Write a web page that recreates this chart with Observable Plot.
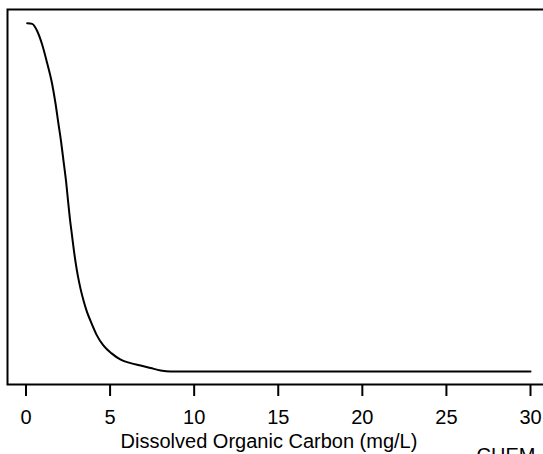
<!DOCTYPE html>
<html><head><meta charset="utf-8">
<script src="https://cdn.jsdelivr.net/npm/d3@7"></script>
<script src="https://cdn.jsdelivr.net/npm/@observablehq/plot@0.6"></script>
<style>html,body{margin:0;padding:0;overflow:hidden;background:#fff;}</style>
</head><body><div id="chart"></div>
<script>
const docValues = [0.07, 0.37, 0.67, 0.96, 1.26, 1.56, 1.76, 1.93, 2.08, 2.23, 2.38, 2.50, 2.61, 2.73, 2.85, 2.97, 3.09, 3.24, 3.42, 3.62, 3.83, 4.19, 4.60, 5.09, 5.63, 6.22, 6.82, 7.41, 8.0, 8.6, 30];
const exceedance = [1.0, 0.998, 0.977, 0.939, 0.885, 0.824, 0.768, 0.711, 0.662, 0.605, 0.547, 0.490, 0.439, 0.393, 0.347, 0.307, 0.273, 0.238, 0.204, 0.172, 0.146, 0.106, 0.075, 0.052, 0.034, 0.024, 0.017, 0.010, 0.003, 0.0, 0.0];
const xTicks = [0, 5, 10, 15, 20, 25, 30];
const xLabel = "Dissolved Organic Carbon (mg/L)";
const sourceNote = "CHEM";

const data = docValues.map((x, i) => ({x, y: exceedance[i]}));

const chart = Plot.plot({
  width: 560, height: 454,
  marginLeft: 7, marginRight: 0, marginTop: 9, marginBottom: 70,
  style: {fontFamily: "'Liberation Sans', Arial, sans-serif", fontSize: "20px", color: "black", background: "white", maxWidth: "none"},
  x: {domain: [0, 30], range: [25.5, 530]},
  y: {domain: [0, 1], range: [371, 22.7], axis: null},
  marks: [
    Plot.frame({stroke: "black", strokeWidth: 2}),
    Plot.axisX({ticks: xTicks, tickSize: 12, tickPadding: 13.5, strokeWidth: 2, label: null}),
    Plot.line(data, {x: "x", y: "y", curve: "monotone-x", strokeWidth: 2, stroke: "black"}),
    Plot.text([xLabel], {frameAnchor: "bottom", dx: -15, dy: 63.5, fontSize: 20}),
    Plot.text([sourceNote], {frameAnchor: "bottom-left", textAnchor: "start", lineAnchor: "top", dx: 469, dy: 63, fontSize: 20})
  ]
});
document.getElementById("chart").appendChild(chart);
</script>
</body></html>
